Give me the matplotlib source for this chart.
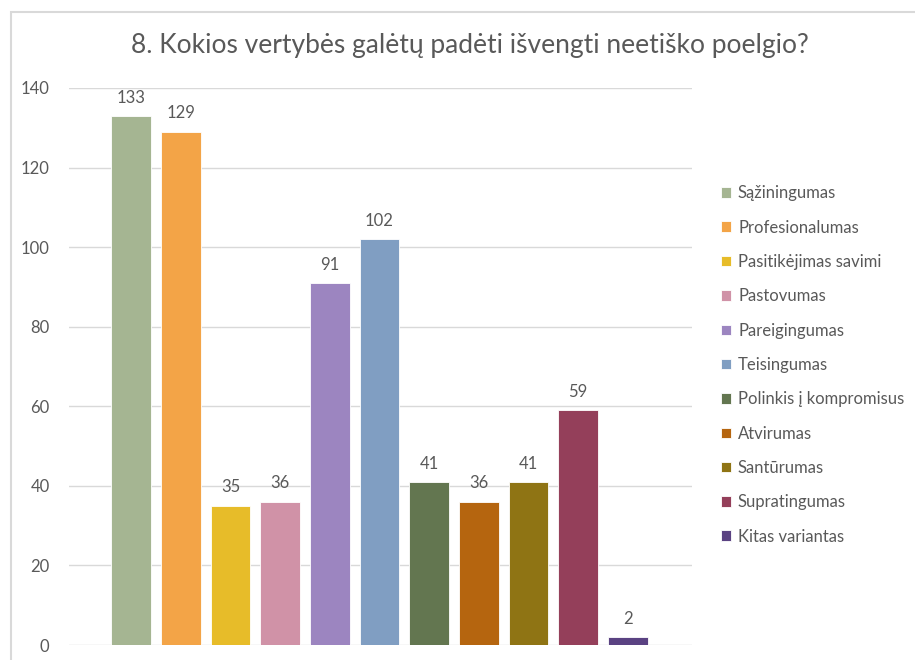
import matplotlib.pyplot as plt
from matplotlib.patches import Rectangle

# chart data
TITLE = "8. Kokios vertybės galėtų padėti išvengti neetiško poelgio?"
categories = ["Sąžiningumas", "Profesionalumas", "Pasitikėjimas savimi", "Pastovumas",
              "Pareigingumas", "Teisingumas", "Polinkis į kompromisus", "Atvirumas",
              "Santūrumas", "Supratingumas", "Kitas variantas"]
values = [133, 129, 35, 36, 91, 102, 41, 36, 41, 59, 2]
colors = ["#A5B592", "#F3A447", "#E7BC29", "#D092A7", "#9C85C0", "#809EC2",
          "#637650", "#B5650F", "#8F7414", "#943F5A", "#5A4282"]
yticks = [0, 20, 40, 60, 80, 100, 120, 140]

TEXT_COLOR = "#595959"
plt.rcParams['font.family'] = ['Lato', 'DejaVu Sans']


def main():
    fig = plt.figure(figsize=(9.15, 6.6), dpi=100)

    # light grey chart border (cropped at right and bottom)
    fig.patches.append(Rectangle((11 / 915, -0.1), 1.0, 1.1 - 12 / 660,
                                 transform=fig.transFigure, fill=False,
                                 edgecolor="#D9D9D9", linewidth=1.5))

    ax = fig.add_axes([69 / 915, 15 / 660, 623 / 915, 557 / 660])
    for i, (name, v, c) in enumerate(zip(categories, values, colors)):
        ax.bar(i, v, width=0.8, color=c, edgecolor="white", linewidth=0.6,
               label=name, zorder=3)
        ax.text(i, v + 2.6, str(v), ha="center", va="bottom",
                fontsize=12, color=TEXT_COLOR)

    ax.set_xlim(-1.25, 11.29)
    ax.set_ylim(0, 140)
    ax.set_yticks(yticks)
    ax.set_xticks([])
    ax.tick_params(axis="y", length=0, pad=14, labelsize=12, labelcolor=TEXT_COLOR)
    ax.grid(axis="y", color="#D9D9D9", linewidth=1, zorder=0)
    for s in ax.spines.values():
        s.set_visible(False)

    fig.text(470 / 915, 1 - 45 / 660, TITLE, ha="center", va="center",
             fontsize=19, color=TEXT_COLOR)

    ax.legend(loc="upper left", bbox_to_anchor=(713 / 915, 1 - 177 / 660),
              bbox_transform=fig.transFigure, frameon=False, fontsize=12,
              labelcolor=TEXT_COLOR, handlelength=0.6, handleheight=0.6,
              handletextpad=0.4, labelspacing=1.1, borderpad=0)

    fig.savefig("out.png", dpi=100)


if __name__ == "__main__":
    main()
